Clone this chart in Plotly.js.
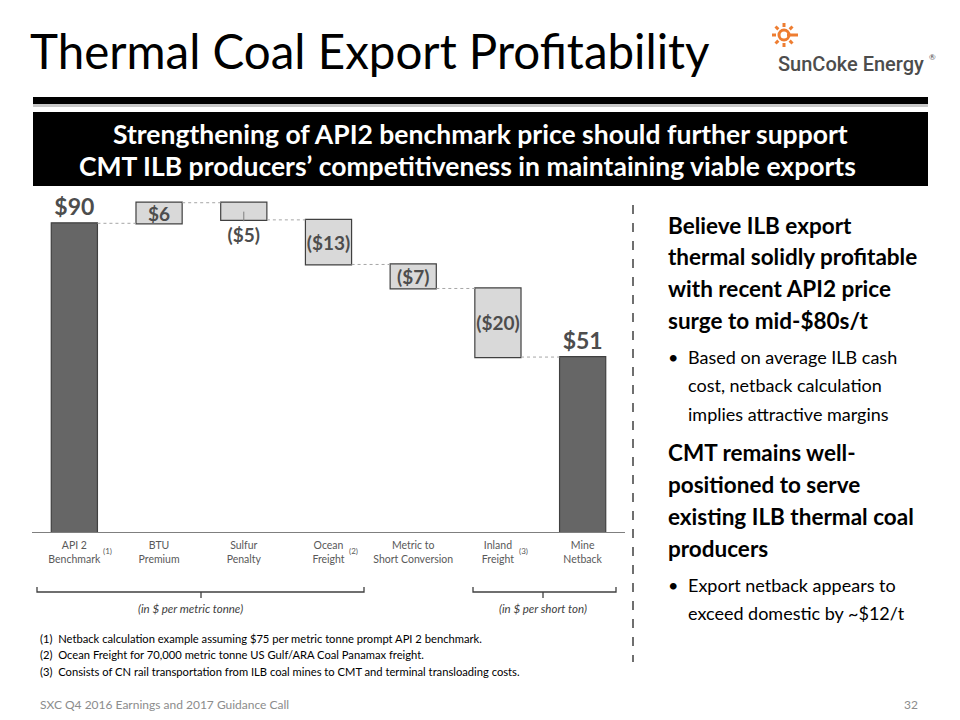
<!DOCTYPE html>
<html>
<head>
<meta charset="utf-8">
<script src="https://cdn.plot.ly/plotly-3.0.1.min.js"></script>
<style>
html,body{margin:0;padding:0;background:#fff;}
#chart{width:960px;height:720px;}
</style>
</head>
<body>
<div id="chart"></div>
<script>
// ---- data ----
var categories = ["API 2<br>Benchmark", "BTU<br>Premium", "Sulfur<br>Penalty", "Ocean<br>Freight", "Metric to<br>Short Conversion", "Inland<br>Freight", "Mine<br>Netback"];
var values = [90, 6, -5, -13, -7, -20, 51];
var measures = ["absolute", "relative", "relative", "relative", "relative", "relative", "total"];
var footnoteMarks = ["(1)", "", "", "(2)", "", "(3)", ""];
var textPositions = ["outside", "inside", "outside", "inside", "inside", "inside", "outside"];
var footnotes = [
  "(1)  Netback calculation example assuming $75 per metric tonne prompt API 2 benchmark.",
  "(2)  Ocean Freight for 70,000 metric tonne US Gulf/ARA Coal Panamax freight.",
  "(3)  Consists of CN rail transportation from ILB coal mines to CMT and terminal transloading costs."
];
var rightPanel = [
  {bold: true, lines: ["Believe ILB export", "thermal solidly profitable", "with recent API2 price", "surge to mid-$80s/t"]},
  {bold: false, lines: ["Based on average ILB cash", "cost, netback calculation", "implies attractive margins"]},
  {bold: true, lines: ["CMT remains well-", "positioned to serve", "existing ILB thermal coal", "producers"]},
  {bold: false, lines: ["Export netback appears to", "exceed domestic by ~$12/t"]}
];
var titleText = "Thermal Coal Export Profitability";
var subtitleLines = ["Strengthening of API2 benchmark price should further support", "CMT ILB producers\u2019 competitiveness in maintaining viable exports"];
var unitLabels = ["(in $ per metric tonne)", "(in $ per short ton)"];
var footerText = "SXC Q4 2016 Earnings and 2017 Guidance Call";
var pageNum = "32";

// ---- layout helpers ----
var ML = 32, MR = 335, MT = 189, MB = 188;
var PW = 960 - ML - MR, PH = 720 - MT - MB;
function px(x){ return (x - ML) / PW; }
function py(y){ return (720 - MB - y) / PH; }

var FONT = "Lato, 'Open Sans', sans-serif";
var labels = values.map(function(v){ return v < 0 ? "($" + Math.abs(v) + ")" : "$" + v; });
var labelSizes = measures.map(function(m){ return m === "relative" ? 19 : 23; });

var trace = {
  type: "waterfall",
  x: categories,
  y: values,
  measure: measures,
  text: labels,
  textinfo: "text",
  textposition: textPositions,
  textangle: 0,
  insidetextanchor: "middle",
  constraintext: "none",
  cliponaxis: false,
  width: 0.545,
  textfont: {family: FONT, size: labelSizes, color: "#4d4d4d", weight: "bold"},
  insidetextfont: {family: FONT, size: labelSizes, color: "#4d4d4d", weight: "bold"},
  outsidetextfont: {family: FONT, size: labelSizes, color: "#4d4d4d", weight: "bold"},
  increasing: {marker: {color: "#d9d9d9", line: {color: "#404040", width: 1.2}}},
  decreasing: {marker: {color: "#d9d9d9", line: {color: "#404040", width: 1.2}}},
  totals: {marker: {color: "#666666", line: {color: "#404040", width: 1.2}}},
  connector: {mode: "between", line: {color: "#a6a6a6", width: 1, dash: "dot"}},
  hoverinfo: "skip"
};

var annotations = [];
var shapes = [];

// title
annotations.push({xref: "paper", yref: "paper", x: px(28), y: py(50), xanchor: "left", yanchor: "middle",
  text: titleText, showarrow: false, font: {family: FONT, size: 47.5, color: "#000"}});

// logo text
annotations.push({xref: "paper", yref: "paper", x: px(776), y: py(64), xanchor: "left", yanchor: "middle",
  text: "SunCoke Energy", showarrow: false, font: {family: "Roboto, sans-serif", size: 20, color: "#4d4d4d", weight: 500}});
annotations.push({xref: "paper", yref: "paper", x: px(927), y: py(57), xanchor: "left", yanchor: "middle",
  text: "\u00ae", showarrow: false, font: {family: FONT, size: 8, color: "#4d4d4d"}});

// logo sun icon
var cx = 784, cy = 35;
shapes.push({type: "circle", xref: "paper", yref: "paper", x0: px(cx - 5), x1: px(cx + 5), y0: py(cy + 5), y1: py(cy - 5),
  line: {color: "#ee7d31", width: 3}, fillcolor: "rgba(0,0,0,0)"});
for (var k = 0; k < 8; k++) {
  var a = k * Math.PI / 4;
  var r0 = 8, r1 = (k === 0) ? 14 : 12;
  if (k === 0) r0 = 3;
  shapes.push({type: "line", xref: "paper", yref: "paper",
    x0: px(cx + r0 * Math.cos(a)), y0: py(cy - r0 * Math.sin(a)),
    x1: px(cx + r1 * Math.cos(a)), y1: py(cy - r1 * Math.sin(a)),
    line: {color: "#ee7d31", width: 3}});
}

// black divider + shadow
shapes.push({type: "rect", xref: "paper", yref: "paper", x0: px(33), x1: px(928), y0: py(107), y1: py(103), fillcolor: "#c8c8c8", line: {width: 0}, layer: "below"});
shapes.push({type: "rect", xref: "paper", yref: "paper", x0: px(33), x1: px(928), y0: py(104), y1: py(97), fillcolor: "#000", line: {width: 0}});
// black subtitle box
shapes.push({type: "rect", xref: "paper", yref: "paper", x0: px(33), x1: px(928), y0: py(186), y1: py(112), fillcolor: "#000", line: {width: 0}});
var subCenters = [480, 467];
subtitleLines.forEach(function(t, i){
  annotations.push({xref: "paper", yref: "paper", x: px(subCenters[i]), y: py(134 + i * 32), xanchor: "center", yanchor: "middle",
    text: t, showarrow: false, font: {family: FONT, size: 26.5, color: "#fff", weight: "bold"}});
});

// footnote markers next to tick labels
var markOffset = [0.32, 0, 0, 0.22, 0, 0.22, 0];
footnoteMarks.forEach(function(m, i){
  if (!m) return;
  annotations.push({xref: "x", yref: "paper", x: i + markOffset[i], y: py(551), xanchor: "left", yanchor: "middle",
    text: m, showarrow: false, font: {family: FONT, size: 8, color: "#595959"}});
});

// braces
function brace(x0, x1, xm){
  shapes.push({type: "path", xref: "paper", yref: "paper",
    path: "M " + px(x0) + " " + py(587) + " L " + px(x0) + " " + py(592) + " L " + px(x1) + " " + py(592) + " L " + px(x1) + " " + py(587)
      + " M " + px(xm) + " " + py(592) + " L " + px(xm) + " " + py(598),
    line: {color: "#404040", width: 1.3}});
}
brace(37, 364, 201);
brace(473, 616, 543);
annotations.push({xref: "paper", yref: "paper", x: px(190), y: py(608), xanchor: "center", yanchor: "middle",
  text: "<i>" + unitLabels[0] + "</i>", showarrow: false, font: {family: FONT, size: 11.5, color: "#404040"}});
annotations.push({xref: "paper", yref: "paper", x: px(543), y: py(608), xanchor: "center", yanchor: "middle",
  text: "<i>" + unitLabels[1] + "</i>", showarrow: false, font: {family: FONT, size: 11.5, color: "#404040"}});

// footnotes
footnotes.forEach(function(t, i){
  annotations.push({xref: "paper", yref: "paper", x: px(38), y: py(638 + i * 16.5), xanchor: "left", yanchor: "middle",
    text: t, showarrow: false, font: {family: FONT, size: 11.2, color: "#000"}});
});

// footer
annotations.push({xref: "paper", yref: "paper", x: px(38), y: py(704), xanchor: "left", yanchor: "middle",
  text: footerText, showarrow: false, font: {family: FONT, size: 12, color: "#8c8c8c"}});
annotations.push({xref: "paper", yref: "paper", x: px(920), y: py(704), xanchor: "right", yanchor: "middle",
  text: pageNum, showarrow: false, font: {family: FONT, size: 12, color: "#8c8c8c"}});

// dashed separator
shapes.push({type: "line", xref: "paper", yref: "paper", x0: px(633), x1: px(633), y0: py(205), y1: py(662),
  line: {color: "#404040", width: 1.5, dash: "dash"}});

// sulfur leader line
shapes.push({type: "line", xref: "x", yref: "y", x0: 2, x1: 2, y0: 93.4, y1: 90.6, line: {color: "#7f7f7f", width: 1}});

// right panel text
var yPos = 225;
rightPanel.forEach(function(block, bi){
  block.lines.forEach(function(line, li){
    if (block.bold) {
      annotations.push({xref: "paper", yref: "paper", x: px(666), y: py(yPos), xanchor: "left", yanchor: "middle",
        text: line, showarrow: false, font: {family: FONT, size: 22.5, color: "#000", weight: "bold"}});
      yPos += 31.8;
    } else {
      if (li === 0) {
        annotations.push({xref: "paper", yref: "paper", x: px(666), y: py(yPos), xanchor: "left", yanchor: "middle",
          text: "\u2022", showarrow: false, font: {family: FONT, size: 18, color: "#000"}});
      }
      annotations.push({xref: "paper", yref: "paper", x: px(686), y: py(yPos), xanchor: "left", yanchor: "middle",
        text: line, showarrow: false, font: {family: FONT, size: 18, color: "#000"}});
      yPos += 28.2;
    }
  });
  yPos += bi % 2 === 0 ? 5 : 11;
});

var layout = {
  width: 960, height: 720,
  margin: {l: ML, r: MR, t: MT, b: MB, pad: 0},
  paper_bgcolor: "#fff", plot_bgcolor: "#fff",
  showlegend: false,
  font: {family: FONT},
  xaxis: {
    type: "category", range: [-0.5, 6.5],
    showline: true, linecolor: "#7f7f7f", linewidth: 1.3,
    ticks: "", showgrid: false, zeroline: false,
    ticklabelstandoff: 3,
    tickfont: {family: FONT, size: 10.5, color: "#595959"},
    fixedrange: true
  },
  yaxis: {range: [0, 100], visible: false, showgrid: false, zeroline: false, fixedrange: true},
  annotations: annotations,
  shapes: shapes
};

Plotly.newPlot("chart", [trace], layout, {displayModeBar: false, staticPlot: true});
</script>
</body>
</html>
